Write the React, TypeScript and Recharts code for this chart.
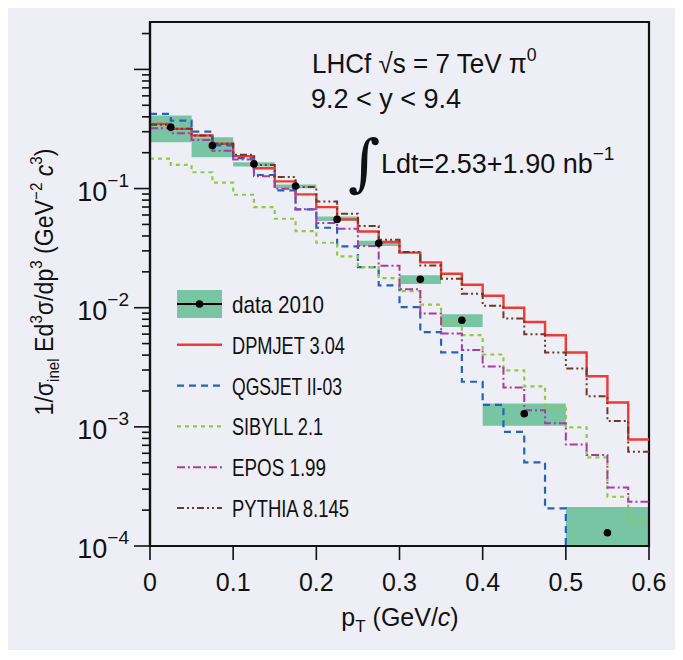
import React from 'react';
import {
  ComposedChart,
  Line,
  Scatter,
  XAxis,
  YAxis,
  ReferenceArea,
} from 'recharts';

// model histograms: 24 bins of 0.025 GeV/c, value per bin (lower edge listed)
const binEdges = [
  0, 0.025, 0.05, 0.075, 0.1, 0.125, 0.15, 0.175, 0.2, 0.225, 0.25, 0.275,
  0.3, 0.325, 0.35, 0.375, 0.4, 0.425, 0.45, 0.475, 0.5, 0.525, 0.55, 0.575,
];
const lastEdge = 0.6;

const dpmjet = [
  0.349, 0.317, 0.279, 0.238, 0.187, 0.148, 0.115, 0.0893, 0.0698, 0.0551,
  0.0436, 0.0356, 0.029, 0.024, 0.0193, 0.0156, 0.0126, 0.01, 0.00759,
  0.00588, 0.00421, 0.00266, 0.0016, 0.000783,
];
const qgsjet = [
  0.424, 0.372, 0.301, 0.23, 0.18, 0.13, 0.0964, 0.0668, 0.0469, 0.0327,
  0.0219, 0.0154, 0.0101, 0.00625, 0.00421, 0.00239, 0.00153, 0.000908,
  0.000504, 0.000207, 0.00005, 0.00005, 0.00005, 0.00005,
];
const sibyll = [
  0.178, 0.158, 0.137, 0.112, 0.0887, 0.0698, 0.0558, 0.044, 0.0351, 0.027,
  0.0219, 0.0177, 0.0138, 0.0106, 0.00755, 0.00588, 0.00405, 0.00298,
  0.00219, 0.00143, 0.000989, 0.000555, 0.000259, 0.000157,
];
const epos = [
  0.321, 0.291, 0.256, 0.208, 0.175, 0.127, 0.0995, 0.067, 0.0515, 0.046,
  0.0329, 0.0225, 0.0143, 0.00894, 0.00607, 0.00442, 0.00321, 0.00214,
  0.00138, 0.00107, 0.000711, 0.00058, 0.00031, 0.000235,
];
const pythia = [
  0.343, 0.317, 0.279, 0.238, 0.192, 0.158, 0.125, 0.103, 0.078, 0.0615,
  0.0484, 0.0372, 0.0293, 0.0226, 0.0175, 0.0131, 0.0104, 0.00811, 0.00598,
  0.00421, 0.00309, 0.00181, 0.00112, 0.000617,
];

// LHCf data 2010, bins of 0.05 (0.1 above 0.4)
const dataX = [0.025, 0.075, 0.125, 0.175, 0.225, 0.275, 0.325, 0.375, 0.45, 0.55];
const dataY = [0.327, 0.23, 0.161, 0.105, 0.0551, 0.0348, 0.0173, 0.00783, 0.00129, 0.000129];
const binLo = [0, 0.05, 0.1, 0.15, 0.2, 0.25, 0.3, 0.35, 0.4, 0.5];
const binHi = [0.05, 0.1, 0.15, 0.2, 0.25, 0.3, 0.35, 0.4, 0.5, 0.6];
const errLo = [0.245, 0.183, 0.153, 0.1007, 0.0533, 0.0329, 0.0158, 0.00689, 0.00102, 0.00005];
const errHi = [0.41, 0.27, 0.166, 0.108, 0.0583, 0.0365, 0.0187, 0.00881, 0.00157, 0.000212];

const xTicks = [0, 0.1, 0.2, 0.3, 0.4, 0.5, 0.6];
const yMajor = [0.0001, 0.001, 0.01, 0.1, 1];
const yMinor = yMajor.flatMap((m) => [2, 3, 4, 5, 6, 7, 8, 9].map((k) => k * m)).filter((v) => v < 2.5);
const yTicks = [...yMajor, ...yMinor].sort((a, b) => a - b);
const yDomain = [0.0001, 2.5];

const histRows = [...binEdges, lastEdge].map((x, i) => {
  const k = Math.min(i, binEdges.length - 1);
  return { x, dpmjet: dpmjet[k], qgsjet: qgsjet[k], sibyll: sibyll[k], epos: epos[k], pythia: pythia[k] };
});
const points = dataX.map((x, i) => ({ x, val: dataY[i] }));

const BG = '#eeeef6';
const BOX = '#78c5a3';
const FONT = "'Liberation Sans', Arial, sans-serif";

// textW: rendered width of the legend label, to get the narrow look of the original
const models = [
  { key: 'dpmjet', name: 'DPMJET 3.04', color: '#ef3a35', dash: undefined, width: 2.4, textW: 113 },
  { key: 'qgsjet', name: 'QGSJET II-03', color: '#2463bd', dash: '7 5', width: 2.2, textW: 110 },
  { key: 'sibyll', name: 'SIBYLL 2.1', color: '#93c744', dash: '4 4', width: 2.2, textW: 91 },
  { key: 'epos', name: 'EPOS 1.99', color: '#aa3aa6', dash: '8 3 2 3', width: 2, textW: 94 },
  { key: 'pythia', name: 'PYTHIA 8.145', color: '#6b3a24', dash: '7 3 2 3 2 3', width: 2, textW: 117 },
];

const YTick = (props: any) => {
  const { x, y, payload } = props;
  const lg = Math.log10(payload.value);
  const major = Math.abs(lg - Math.round(lg)) < 1e-6;
  const len = major ? 16 : 8;
  return (
    <g>
      <line x1={x - len} x2={x} y1={y} y2={y} stroke="#111" strokeWidth={1.6} />
      {major && payload.value < 0.5 && (
        <text x={x - 21} y={y + 12} textAnchor="end" fontSize={27} fontFamily={FONT} fill="#111">
          10
          <tspan dy={-14} fontSize={19}>{'\u2212' + -Math.round(lg)}</tspan>
        </text>
      )}
    </g>
  );
};

const XTick = (props: any) => {
  const { x, y, payload } = props;
  return (
    <g>
      <line x1={x} x2={x} y1={y} y2={y + 14} stroke="#111" strokeWidth={1.6} />
      <text x={x} y={y + 45} textAnchor="middle" fontSize={25} fontFamily={FONT} fill="#111">
        {String(payload.value)}
      </text>
    </g>
  );
};

const legendTop = 304;
const legendGap = 40.8;

export default function App() {
  return (
    <div style={{ position: 'relative', width: 683, height: 660, margin: '-8px 0 0 -8px', background: '#fff' }}>
      <div style={{ position: 'absolute', left: 7, top: 0, width: 671, height: 650, background: BG }} />
      <div style={{ position: 'absolute', left: 0, top: 0 }}>
        <ComposedChart
          width={683}
          height={660}
          data={histRows}
          margin={{ top: 22, right: 34, left: 60, bottom: 54 }}
        >
          {binLo.map((lo, i) => (
            <ReferenceArea
              key={'box' + i}
              x1={lo}
              x2={binHi[i]}
              y1={errLo[i]}
              y2={errHi[i]}
              fill={BOX}
              fillOpacity={1}
              stroke="none"
              ifOverflow="hidden"
            />
          ))}
          <XAxis
            dataKey="x"
            type="number"
            domain={[0, 0.6]}
            ticks={xTicks}
            interval={0}
            height={60}
            tickSize={0}
            tickMargin={0}
            axisLine={{ stroke: '#111', strokeWidth: 2.2 }}
            tick={<XTick />}
            allowDataOverflow
          />
          <YAxis
            type="number"
            scale="log"
            domain={yDomain}
            ticks={yTicks}
            interval={0}
            width={90}
            tickSize={0}
            tickMargin={0}
            axisLine={{ stroke: '#111', strokeWidth: 2.2 }}
            tick={<YTick />}
            allowDataOverflow
          />
          {models.map((m) => (
            <Line
              key={m.key}
              type="stepAfter"
              dataKey={m.key}
              stroke={m.color}
              strokeWidth={m.width}
              strokeDasharray={m.dash}
              dot={false}
              activeDot={false}
              isAnimationActive={false}
            />
          ))}
          <Scatter
            data={points}
            dataKey="val"
            fill="#000"
            shape={(p: any) => <circle cx={p.cx} cy={p.cy} r={3.8} fill="#000" />}
            isAnimationActive={false}
          />
          <ReferenceArea
            x1={0}
            x2={0.6}
            y1={yDomain[0]}
            y2={yDomain[1]}
            fill="none"
            stroke="#111"
            strokeWidth={2.2}
            ifOverflow="visible"
          />
        </ComposedChart>
      </div>
      <svg width={683} height={660} style={{ position: 'absolute', left: 0, top: 0, pointerEvents: 'none' }}>
        {/* annotations */}
        <g transform="translate(312,73) scale(0.93,1)">
          <text x={0} y={0} fontSize={28} fontFamily={FONT} fill="#111">
            LHCf{'  '}√s = 7 TeV π<tspan dy={-12} fontSize={19}>0</tspan>
          </text>
        </g>
        <text x={311} y={108} fontSize={27} fontFamily={FONT} fill="#111">
          9.2 &lt; y &lt; 9.4
        </text>
        <text x={348} y={184} fontSize={62} fontFamily="'DejaVu Serif', serif" fill="#111">
          ∫
        </text>
        <text x={381} y={173} fontSize={27} fontFamily={FONT} fill="#111">
          Ldt=2.53+1.90 nb<tspan dy={-13} fontSize={19}>−1</tspan>
        </text>

        {/* axis titles */}
        <text x={400} y={626} textAnchor="middle" fontSize={25} fontFamily={FONT} fill="#111">
          p<tspan dy={6} fontSize={17}>T</tspan>
          <tspan dy={-6}> (GeV/</tspan>
          <tspan fontStyle="italic">c</tspan>)
        </text>
        <g transform="translate(53,282) rotate(-90) scale(0.89,1)">
          <text x={0} y={0} textAnchor="middle" fontSize={26} fontFamily={FONT} fill="#111">
            1/σ<tspan dy={6} fontSize={17}>inel</tspan>
            <tspan dy={-6}> Ed</tspan>
            <tspan dy={-11} fontSize={17}>3</tspan>
            <tspan dy={11}>σ/dp</tspan>
            <tspan dy={-11} fontSize={17}>3</tspan>
            <tspan dy={11}> (GeV</tspan>
            <tspan dy={-11} fontSize={17}>−2</tspan>
            <tspan dy={11} fontStyle="italic"> c</tspan>
            <tspan dy={-11} fontSize={17}>3</tspan>
            <tspan dy={11}>)</tspan>
          </text>
        </g>

        {/* legend */}
        <rect x={177} y={legendTop - 14} width={45} height={28} fill={BOX} />
        <line x1={177} x2={222} y1={legendTop} y2={legendTop} stroke="#000" strokeWidth={2} />
        <circle cx={199.5} cy={legendTop} r={3.8} fill="#000" />
        <text x={232} y={legendTop + 9} fontSize={24} fontFamily={FONT} fill="#111" textLength={92} lengthAdjust="spacingAndGlyphs">
          data 2010
        </text>
        {models.map((m, i) => {
          const y = legendTop + legendGap * (i + 1);
          return (
            <g key={m.key}>
              <line x1={177} x2={222} y1={y} y2={y} stroke={m.color} strokeWidth={m.width} strokeDasharray={m.dash} />
              <text
                x={232}
                y={y + 9}
                fontSize={24}
                fontFamily={FONT}
                fill="#111"
                textLength={m.textW}
                lengthAdjust="spacingAndGlyphs"
              >
                {m.name}
              </text>
            </g>
          );
        })}
      </svg>
    </div>
  );
}
